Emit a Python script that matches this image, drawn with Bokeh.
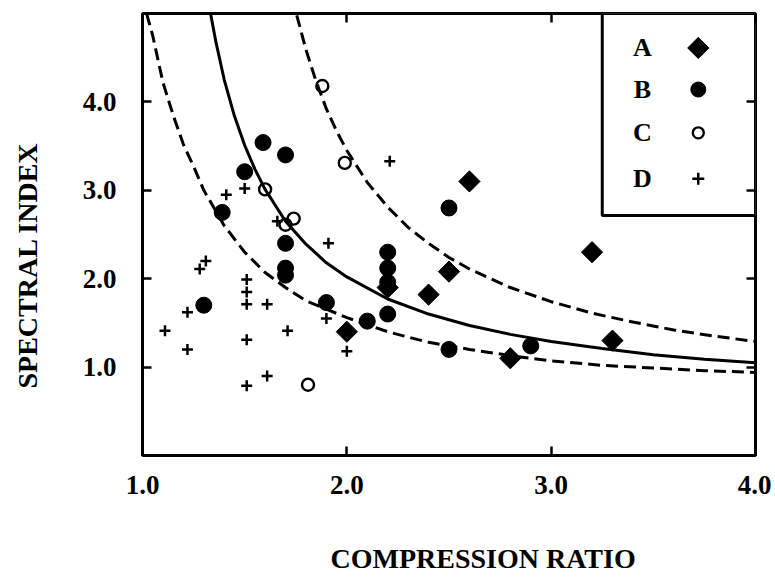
import math
from bokeh.plotting import figure
from bokeh.models import (Range1d, LinearAxis, FixedTicker, PrintfTickFormatter,
                          CustomJSTickFormatter, Label, BoxAnnotation, Title)
from bokeh.embed import file_html
from bokeh.resources import INLINE

# ---------------- data ----------------
a_x = [2.60, 3.20, 2.50, 2.40, 2.20, 2.00, 2.80, 3.30]
a_y = [3.10, 2.30, 2.08, 1.82, 1.90, 1.40, 1.10, 1.30]

b_x = [2.50, 2.20, 2.20, 2.20, 2.20, 2.10, 1.90, 2.50, 2.90, 1.59, 1.70, 1.50, 1.39, 1.70, 1.70, 1.70, 1.30]
b_y = [2.80, 2.30, 2.12, 1.96, 1.60, 1.52, 1.73, 1.20, 1.24, 3.54, 3.40, 3.21, 2.75, 2.40, 2.12, 2.04, 1.70]

c_x = [1.88, 1.99, 1.60, 1.74, 1.70, 1.81]
c_y = [4.18, 3.31, 3.01, 2.68, 2.61, 0.80]

d_x = [2.21, 1.50, 1.41, 1.66, 1.91, 1.31, 1.28, 1.51, 1.51, 1.51, 1.61, 1.22, 1.11,
       1.51, 1.71, 1.22, 1.61, 1.51, 1.90, 2.00]
d_y = [3.33, 3.02, 2.95, 2.65, 2.40, 2.20, 2.11, 1.99, 1.85, 1.71, 1.71, 1.62, 1.41,
       1.31, 1.41, 1.20, 0.90, 0.79, 1.55, 1.18]

solid_x = [1.333, 1.36, 1.40, 1.45, 1.50, 1.55, 1.60, 1.70, 1.80, 1.90, 2.00, 2.20,
           2.40, 2.60, 2.80, 3.00, 3.25, 3.50, 3.75, 4.00]
solid_y = [5.00, 4.67, 4.25, 3.84, 3.51, 3.24, 3.01, 2.65, 2.39, 2.18, 2.02, 1.77,
           1.60, 1.47, 1.37, 1.29, 1.21, 1.14, 1.09, 1.05]

lower_x = [1.02, 1.05, 1.10, 1.15, 1.20, 1.25, 1.30, 1.40, 1.50, 1.60, 1.70, 1.80,
           2.00, 2.20, 2.40, 2.60, 2.80, 3.00, 3.25, 3.50, 3.75, 4.00]
lower_y = [5.00, 4.75, 4.22, 3.85, 3.52, 3.27, 3.00, 2.60, 2.30, 2.07, 1.90, 1.75,
           1.56, 1.40, 1.28, 1.20, 1.13, 1.07, 1.02, 0.99, 0.96, 0.94]

upper_x = [1.755, 1.80, 1.85, 1.90, 1.95, 2.00, 2.10, 2.20, 2.30, 2.40, 2.50, 2.60,
           2.80, 3.00, 3.20, 3.40, 3.60, 3.80, 4.00]
upper_y = [4.98, 4.59, 4.23, 3.92, 3.67, 3.45, 3.09, 2.81, 2.58, 2.40, 2.24, 2.11,
           1.90, 1.74, 1.61, 1.51, 1.42, 1.35, 1.29]

x_ticks = [1.0, 2.0, 3.0, 4.0]
y_ticks = [1.0, 2.0, 3.0, 4.0]
legend_labels = ["A", "B", "C", "D"]

x_title = "COMPRESSION RATIO"
y_title = "SPECTRAL INDEX"

# ---------------- figure ----------------
FONT = "Liberation Serif"

p = figure(frame_width=613, frame_height=442,
           x_range=Range1d(1.0, 4.0), y_range=Range1d(0.0, 5.0),
           output_backend="svg", toolbar_location=None,
           min_border_left=142, min_border_top=13, min_border_right=16, min_border_bottom=100,
           x_axis_location=None, y_axis_location=None)
p.background_fill_color = "white"
p.border_fill_color = "white"
p.outline_line_color = "black"
p.outline_line_width = 3
p.xgrid.visible = False
p.ygrid.visible = False


def style_axis(ax, ticks, show_labels, standoff):
    ax.ticker = FixedTicker(ticks=ticks)
    ax.axis_line_color = None
    ax.major_tick_in = 9
    ax.major_tick_out = 0
    ax.major_tick_line_width = 2.5
    ax.major_tick_line_color = "black"
    ax.minor_tick_line_color = None
    if show_labels:
        ax.formatter = PrintfTickFormatter(format="%.1f")
        ax.major_label_text_font = FONT
        ax.major_label_text_font_style = "bold"
        ax.major_label_text_font_size = "27px"
        ax.major_label_text_color = "black"
        ax.major_label_standoff = standoff
    else:
        ax.formatter = CustomJSTickFormatter(code="return '';")
        ax.major_label_text_font_size = "1px"
        ax.major_label_standoff = standoff


bottom = LinearAxis()
style_axis(bottom, x_ticks, True, 20)
p.add_layout(bottom, "below")
left = LinearAxis()
style_axis(left, y_ticks, True, 26)
p.add_layout(left, "left")
top = LinearAxis()
style_axis(top, x_ticks, False, 0)
p.add_layout(top, "above")
right = LinearAxis()
style_axis(right, y_ticks, False, 0)
p.add_layout(right, "right")

# axis titles as side titles (offset along the axis from the frame edge)
title_props = Title.properties()
xt = Title(text=x_title, align="left", offset=188, text_font=FONT,
           text_font_style="bold", text_font_size="28px", text_color="black")
yt = Title(text=y_title, align="left", offset=67, text_font=FONT,
           text_font_style="bold", text_font_size="28px", text_color="black")
if "standoff" in title_props:
    xt.standoff = 0
    yt.standoff = 0
if "padding" in title_props:
    xt.padding = dict(left=0, right=0, top=44, bottom=0)
    yt.padding = dict(left=0, right=0, top=0, bottom=37)
p.add_layout(xt, "below")
p.add_layout(yt, "left")

# curves
p.line(lower_x, lower_y, line_color="black", line_width=3, line_dash="12 6")
p.line(upper_x, upper_y, line_color="black", line_width=3, line_dash="12 6")
p.line(solid_x, solid_y, line_color="black", line_width=3)

# data points
p.scatter(a_x, a_y, marker="square", angle=math.pi / 4, size=15,
          fill_color="black", line_color="black")
p.scatter(b_x, b_y, marker="circle", size=16, fill_color="black", line_color="black")
p.scatter(c_x, c_y, marker="circle", size=12, fill_color=None,
          line_color="black", line_width=2.4)
p.scatter(d_x, d_y, marker="cross", size=11, line_color="black", line_width=2.5)

# legend box (custom: label left, symbol right)
box = BoxAnnotation(left=3.25, bottom=2.715, fill_color="white", fill_alpha=1.0,
                    line_color="black", line_width=3, line_alpha=1.0, level="underlay")
p.add_layout(box)

leg_rows = [4.61, 4.14, 3.65, 3.13]
for lab, yy in zip(legend_labels, leg_rows):
    p.add_layout(Label(x=3.446, y=yy, text=lab, text_font=FONT, text_font_style="bold",
                       text_font_size="26px", text_align="center", text_baseline="middle",
                       text_color="black"))

sym_x = 3.72
p.scatter([sym_x], [leg_rows[0]], marker="square", angle=math.pi / 4, size=15,
          fill_color="black", line_color="black")
p.scatter([sym_x], [leg_rows[1]], marker="circle", size=15, fill_color="black",
          line_color="black")
p.scatter([sym_x], [leg_rows[2]], marker="circle", size=11, fill_color=None,
          line_color="black", line_width=2.4)
p.scatter([sym_x], [leg_rows[3]], marker="cross", size=12, line_color="black", line_width=2.5)

open("out.html", "w").write(file_html(p, INLINE))
